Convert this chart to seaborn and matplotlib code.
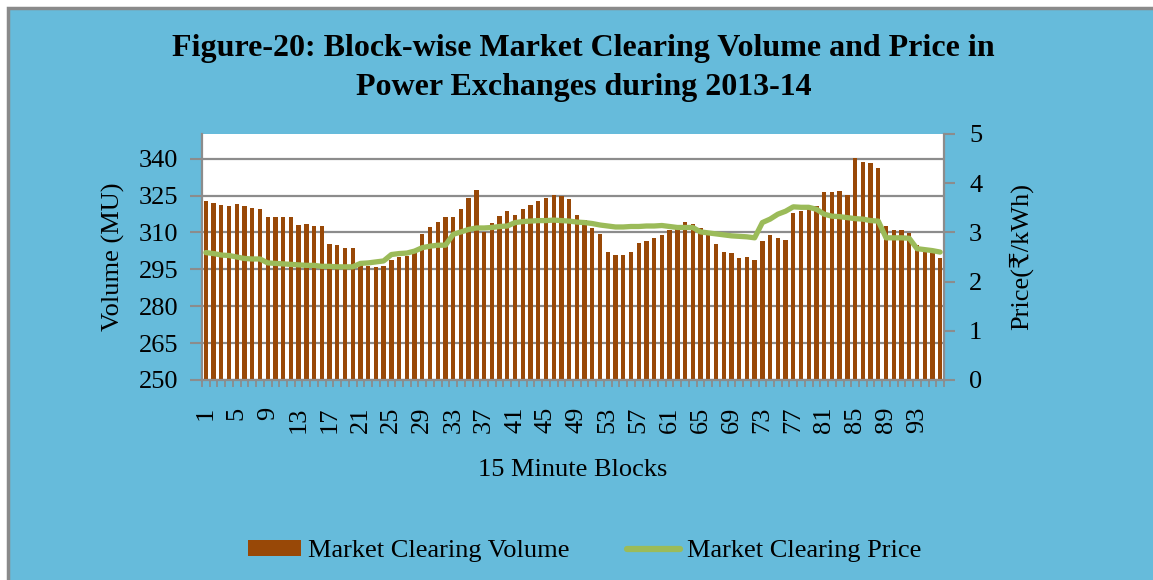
import numpy as np
import pandas as pd
import seaborn as sns
import matplotlib.pyplot as plt
from matplotlib.patches import Rectangle, Patch
from matplotlib.lines import Line2D
from matplotlib.ticker import FixedLocator

# ---------------------------------------------------------
# Data (96 x 15-minute blocks)
# ---------------------------------------------------------
blocks = list(range(1, 97))

volume_mu = [
    322.6, 321.8, 321.0, 320.6, 321.4, 320.6, 319.8, 319.4,
    316.1, 316.1, 316.1, 316.1, 312.9, 313.3, 312.5, 312.5,
    305.1, 304.7, 303.5, 303.5, 297.0, 296.5, 296.0, 296.5,
    298.6, 300.0, 300.5, 302.0, 309.2, 312.0, 314.1, 316.1,
    316.1, 319.4, 323.9, 327.2, 310.1, 313.7, 316.5, 318.6,
    317.0, 319.4, 321.0, 322.6, 323.9, 325.1, 324.7, 323.5,
    317.0, 314.9, 311.6, 309.2, 302.2, 301.0, 301.0, 302.2,
    305.5, 306.7, 307.9, 308.8, 311.0, 312.0, 314.1, 313.3,
    311.6, 309.2, 305.1, 302.2, 301.8, 299.4, 300.2, 298.6,
    306.7, 308.8, 307.9, 307.1, 317.8, 318.5, 319.4, 320.6,
    326.3, 326.3, 326.7, 325.1, 340.2, 338.6, 338.2, 336.1,
    312.5, 310.8, 310.8, 309.6, 304.7, 303.0, 301.5, 299.4,
]

price_rs_kwh = [
    2.59, 2.57, 2.54, 2.53, 2.50, 2.47, 2.46, 2.46,
    2.38, 2.37, 2.36, 2.35, 2.34, 2.33, 2.33, 2.31,
    2.31, 2.30, 2.30, 2.30, 2.37, 2.38, 2.40, 2.42,
    2.55, 2.57, 2.58, 2.62, 2.69, 2.72, 2.74, 2.74,
    2.96, 3.01, 3.06, 3.09, 3.09, 3.10, 3.12, 3.13,
    3.20, 3.22, 3.23, 3.24, 3.24, 3.25, 3.24, 3.23,
    3.21, 3.20, 3.18, 3.15, 3.13, 3.11, 3.11, 3.12,
    3.12, 3.13, 3.13, 3.14, 3.12, 3.10, 3.10, 3.10,
    3.01, 2.99, 2.97, 2.95, 2.93, 2.92, 2.91, 2.89,
    3.20, 3.27, 3.37, 3.43, 3.52, 3.51, 3.51, 3.47,
    3.37, 3.33, 3.32, 3.30, 3.28, 3.27, 3.24, 3.23,
    2.89, 2.89, 2.89, 2.88, 2.67, 2.65, 2.63, 2.60,
]

volume_ticks = [250, 265, 280, 295, 310, 325, 340]
price_ticks = [0, 1, 2, 3, 4, 5]
label_blocks = blocks[::4]

# ---------------------------------------------------------
# Style
# ---------------------------------------------------------
sns.set_style("white")
plt.rcParams["font.family"] = ["Liberation Serif", "DejaVu Serif", "DejaVu Sans"]
plt.rcParams["text.color"] = "black"
plt.rcParams["axes.labelcolor"] = "black"
plt.rcParams["xtick.color"] = "black"
plt.rcParams["ytick.color"] = "black"

BAR_COLOR = "#984807"
LINE_COLOR = "#9BBB59"
BG_COLOR = "#66BBDB"
GRID_COLOR = "#8C8C8C"
FS = 19

df = pd.DataFrame({"block": blocks, "volume": volume_mu, "price": price_rs_kwh})
df["pos"] = np.arange(len(df))

fig = plt.figure(figsize=(11.53, 5.80), dpi=100, facecolor="white")
fig.patches.append(Rectangle((8 / 1153, -0.1), 1.1, 1 - 8 / 580 + 0.1,
                             transform=fig.transFigure, facecolor=BG_COLOR,
                             edgecolor="#8A8A8A", linewidth=2.5, zorder=-10))

ax = fig.add_axes([202 / 1153, 1 - 380 / 580, (944 - 202) / 1153, (380 - 134) / 580])
ax.set_facecolor("white")

# bars: volume
sns.barplot(data=df, x="block", y="volume", color=BAR_COLOR, saturation=1,
            width=0.56, linewidth=0, ax=ax)
ax.set_ylim(250, 350)
ax.set_xlim(-0.5, len(df) - 0.5)
ax.set_yticks(volume_ticks)
ax.yaxis.grid(True, color=GRID_COLOR, linewidth=1.6)
ax.set_axisbelow(True)

# x ticks: labels every 4 blocks, small marks at every block boundary
ax.set_xticks(np.arange(0, len(df), 4))
ax.set_xticklabels([str(b) for b in label_blocks], rotation=90, fontsize=FS)
ax.xaxis.set_minor_locator(FixedLocator(np.arange(-0.5, len(df), 1)))
ax.tick_params(axis="x", which="major", length=0, pad=19)
ax.tick_params(axis="x", which="minor", length=5, width=1.3, color=GRID_COLOR,
               direction="out", bottom=True)
ax.tick_params(axis="y", length=9, width=1.5, color=GRID_COLOR, direction="out",
               labelsize=FS, labelcolor="black", pad=8, left=True)

for side in ["top", "right"]:
    ax.spines[side].set_visible(False)
for side in ["left", "bottom"]:
    ax.spines[side].set_color(GRID_COLOR)
    ax.spines[side].set_linewidth(1.6)

ax.set_xlabel("15 Minute Blocks", fontsize=FS, labelpad=19)
ax.set_ylabel("Volume (MU)", fontsize=FS, labelpad=10)

# line: price on the secondary axis
ax2 = ax.twinx()
sns.lineplot(data=df, x="pos", y="price", color=LINE_COLOR, linewidth=3.8, ax=ax2)
ax2.set_ylim(0, 5)
ax2.set_yticks(price_ticks)
ax2.set_xlim(-0.5, len(df) - 0.5)
ax2.tick_params(axis="y", length=8, width=1.5, color=GRID_COLOR, direction="out",
                labelsize=FS, labelcolor="black", pad=10, right=True)
for side in ["top", "left", "bottom"]:
    ax2.spines[side].set_visible(False)
ax2.spines["right"].set_color(GRID_COLOR)
ax2.spines["right"].set_linewidth(1.6)
ax2.set_ylabel("Price(₹/kWh)", fontsize=FS, labelpad=19)

# title
fig.text(0.506, 1 - 68 / 580,
         "Figure-20: Block-wise Market Clearing Volume and Price in\n"
         "Power Exchanges during 2013-14",
         ha="center", va="center", fontsize=23, fontweight="bold", linespacing=1.42)

# legend
handles = [Patch(facecolor=BAR_COLOR, edgecolor="none"),
           Line2D([0], [0], color=LINE_COLOR, linewidth=4.5)]
fig.legend(handles, ["Market Clearing Volume", "Market Clearing Price"],
           loc="center", bbox_to_anchor=(0.507, 1 - 551 / 580), ncol=2,
           frameon=False, fontsize=FS, handlelength=2.0, handleheight=0.55,
           handletextpad=0.25, columnspacing=2.2)

fig.savefig("out.png", dpi=100, facecolor=fig.get_facecolor())
print("Saved out.png")
